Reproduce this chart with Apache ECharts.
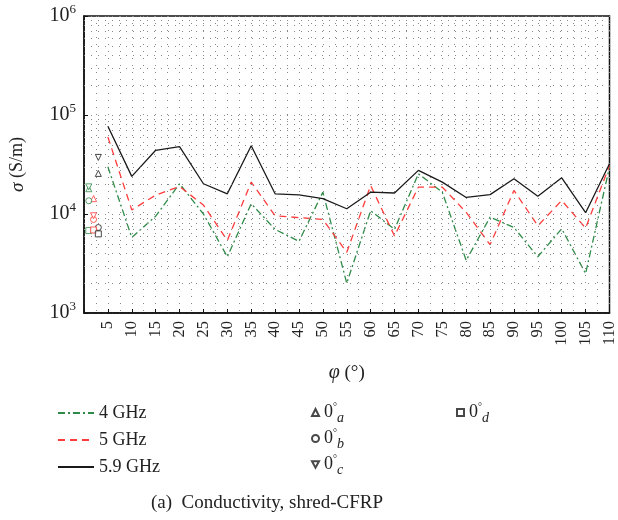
<!DOCTYPE html>
<html>
<head>
<meta charset="utf-8">
<script src="https://cdn.jsdelivr.net/npm/echarts@6/dist/echarts.min.js"></script>
<style>html,body{margin:0;padding:0;background:#fff}#c{width:618px;height:520px}</style>
</head>
<body>
<div id="c"></div>
<script>
// ---- data ----
const phi = [5,10,15,20,25,30,35,40,45,50,55,60,65,70,75,80,85,90,95,100,105,110];
const sigma4GHz  = [30000,5800,9500,20200,10000,3700,12700,7000,5300,16600,2000,10800,7000,25500,16600,3400,9300,7300,3700,7100,2500,29800];
const sigma5GHz  = [60000,11000,15500,19000,12300,5400,21000,9600,9200,8800,4100,19400,6000,18700,18700,10400,4900,17300,7600,13700,7200,31000];
const sigma59GHz = [77000,24000,44000,48000,20200,16000,49000,16000,15600,14300,11300,16600,16300,27600,21000,14700,15700,22700,15100,23200,10300,32200];
const markerX = [1, 2, 3];            // 4 GHz, 5 GHz, 5.9 GHz columns at phi = 0
const zeroA = [18000, 14300, 25700];  // triangle up
const zeroB = [13600, 8800, 7300];    // circle
const zeroC = [18800, 9600, 37300];   // triangle down
const zeroD = [6800, 6900, 6300];     // square

// ---- styles ----
const GREEN = '#2e8b47', RED = '#ff3b3b', BLACK = '#1a1a1a';
const COLS = [GREEN, RED, BLACK];
const SERIF = '"Liberation Serif","DejaVu Serif",serif';
const DOT = {color: '#888', width: 1, type: [1, 6]};

const minorVals = [];
[1e3, 1e4, 1e5].forEach(d => { for (let k = 2; k <= 9; k++) minorVals.push(k * d); });

function markSeries(name, symbol, vals) {
  return {
    name, type: 'scatter', symbol, symbolSize: 6,
    itemStyle: {color: '#fff', borderColor: BLACK, borderWidth: 1},
    data: markerX.map((x, i) => ({value: [x, vals[i]], itemStyle: {borderColor: COLS[i], color: '#fff'}})),
    z: 5
  };
}

const subRich = {
  n: {fontFamily: SERIF, fontSize: 18, color: '#222'},
  sup: {fontFamily: SERIF, fontSize: 10, color: '#222', padding: [0, 0, 11, 0]},
  sub: {fontFamily: SERIF, fontSize: 14, fontStyle: 'italic', color: '#222', padding: [11, 0, 0, 0]}
};
const zeroFmt = n => '{n|0}{sup|°}{sub|' + n.slice(-1) + '}';

const chart = echarts.init(document.getElementById('c'), null, {renderer: 'canvas'});
chart.setOption({
  animation: false,
  backgroundColor: '#fff',
  grid: {left: 83, right: 5, top: 16, bottom: 207, show: true, borderColor: '#111', borderWidth: 1.5, backgroundColor: 'transparent'},
  title: {
    text: '(a)  Conductivity, shred-CFRP', left: 146, top: 489,
    textStyle: {fontFamily: SERIF, fontSize: 19, fontWeight: 'normal', color: '#222'}
  },
  xAxis: {
    type: 'value', min: 0, max: 110, interval: 5,
    name: '{i|φ} (°)', nameLocation: 'middle', nameGap: 50,
    nameTextStyle: {fontFamily: SERIF, fontSize: 19, color: '#222', rich: {i: {fontFamily: SERIF, fontSize: 20, fontStyle: 'italic', color: '#222'}}},
    axisLine: {lineStyle: {color: '#111', width: 1.5}},
    axisTick: {inside: true, length: 4, lineStyle: {color: '#111'}},
    axisLabel: {rotate: 90, fontFamily: SERIF, fontSize: 16.5, color: '#222', margin: 8,
      formatter: v => v === 0 ? '' : String(v)},
    splitLine: {show: true, lineStyle: DOT},
    minorTick: {show: false, splitNumber: 2},
    minorSplitLine: {show: true, lineStyle: DOT}
  },
  yAxis: {
    type: 'log', logBase: 10, min: 1e3, max: 1e6,
    name: '{i|σ} (S/m)', nameLocation: 'middle', nameGap: 57,
    nameTextStyle: {fontFamily: SERIF, fontSize: 18, color: '#222', rich: {i: {fontFamily: SERIF, fontSize: 19, fontStyle: 'italic', color: '#222'}}},
    axisLine: {lineStyle: {color: '#111', width: 1.5}},
    axisTick: {inside: true, length: 4, lineStyle: {color: '#111'}},
    axisLabel: {margin: 8, formatter: v => '{b|10}{s|' + Math.round(Math.log10(v)) + '}',
      rich: {b: {fontFamily: SERIF, fontSize: 20, color: '#222'},
             s: {fontFamily: SERIF, fontSize: 13, color: '#222', padding: [0, 0, 12, 0]}}},
    splitLine: {show: true, lineStyle: DOT}
  },
  legend: [
    {data: ['4 GHz', '5 GHz', '5.9 GHz'], orient: 'vertical', left: 52, top: 399, itemWidth: 36, itemHeight: 14, itemGap: 9,
      itemStyle: {opacity: 0},
      textStyle: {fontFamily: SERIF, fontSize: 18, color: '#222'}},
    {data: ['0a', '0b', '0c'], orient: 'vertical', left: 306, top: 397, itemWidth: 7, itemHeight: 7, itemGap: 3,
      formatter: zeroFmt, textStyle: {rich: subRich}},
    {data: ['0d'], orient: 'vertical', left: 451, top: 397, itemWidth: 7, itemHeight: 7, itemGap: 3,
      formatter: zeroFmt, textStyle: {rich: subRich}}
  ],
  series: [
    {name: '4 GHz', type: 'line', symbol: 'none', color: GREEN,
      lineStyle: {color: GREEN, width: 1.3, type: [7, 3, 2, 3]},
      data: phi.map((p, i) => [p, sigma4GHz[i]]), z: 3,
      markLine: {silent: true, symbol: 'none', label: {show: false}, animation: false,
        lineStyle: DOT, data: minorVals.map(v => ({yAxis: v}))}},
    {name: '5 GHz', type: 'line', symbol: 'none', color: RED,
      lineStyle: {color: RED, width: 1.3, type: [7, 5]},
      data: phi.map((p, i) => [p, sigma5GHz[i]]), z: 3},
    {name: '5.9 GHz', type: 'line', symbol: 'none', color: BLACK,
      lineStyle: {color: BLACK, width: 1.3},
      data: phi.map((p, i) => [p, sigma59GHz[i]]), z: 4},
    markSeries('0a', 'triangle', zeroA),
    markSeries('0b', 'circle', zeroB),
    markSeries('0c', 'path://M0,0 L10,0 L5,9 Z', zeroC),
    markSeries('0d', 'rect', zeroD)
  ]
});
</script>
</body>
</html>
